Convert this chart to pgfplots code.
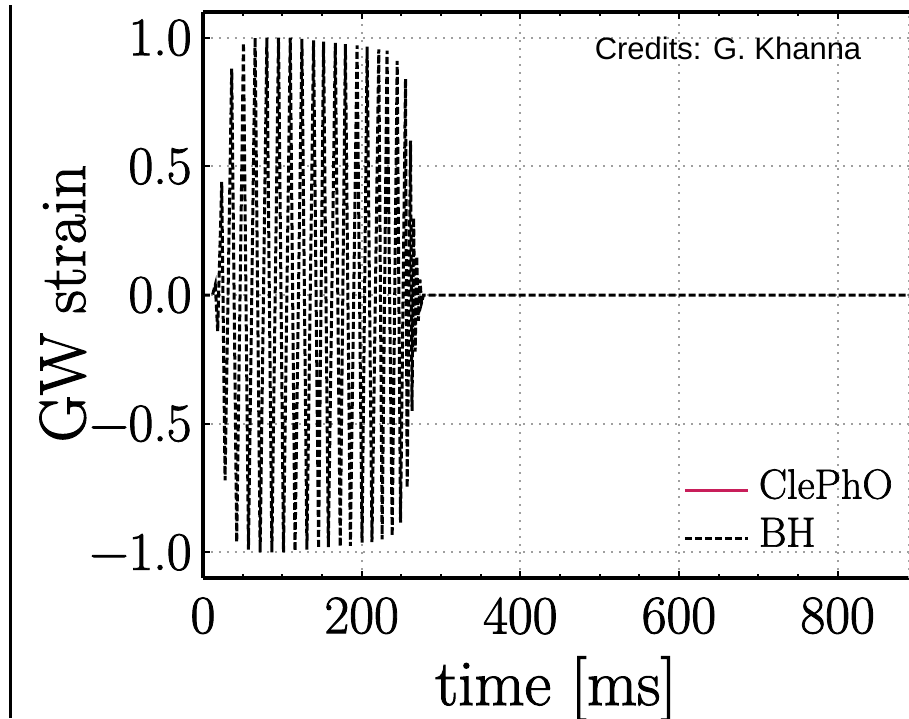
\documentclass[border=0pt]{standalone}
\usepackage{fontspec}
\setmainfont{Latin Modern Roman}[RawFeature={embolden=1.6}]
\usepackage{pgfplots}
\pgfplotsset{compat=1.18}
\newfontfamily\credfont{Liberation Sans}
\definecolor{clepho}{RGB}{200,30,90}
\pgfplotstableread{
t h
0 0
12 0
15.5 0.04
18.5 -0.14
23.6 0.44
27.8 -0.72
36.2 0.88
42.5 -0.96
51 0.98
57.3 -0.99
65.7 1.0
72 -1.0
80.5 1.0
86.8 -1.0
95.2 1.0
101.5 -1.0
110 1.0
116 -0.995
124.7 0.995
131 -0.99
139.4 0.99
145.7 -0.985
152 0.985
158 -0.98
166.8 0.98
173 -0.978
179.5 0.975
185.8 -0.975
194.2 0.97
200.5 -0.962
206.9 0.965
213 -0.96
221.6 0.955
225.8 -0.95
232 0.95
238.5 -0.937
244.8 0.91
249 -0.885
255.3 0.84
257.4 -0.75
261.6 0.6
263.5 -0.45
265.5 0.3
267.5 -0.22
269.5 0.15
271.5 -0.1
273.5 0.06
275.5 -0.03
278 0
890 0
}\bhdata
\begin{document}
\begin{tikzpicture}
\useasboundingbox (-101.5pt,-70pt) rectangle (353pt,289pt);
\begin{axis}[
  at={(0,0)}, anchor=south west,
  scale only axis, width=353pt, height=283pt,
  xmin=0, xmax=890, ymin=-1.1, ymax=1.1,
  separate axis lines,
  axis x line*=box, axis y line*=left,
  axis line style={line width=1.6pt, black},
  xtick={0,200,400,600,800},
  minor x tick num=3,
  ytick={-1,-0.5,0,0.5,1},
  yticklabels={−1.0,−0.5,0.0,0.5,1.0},
  xtick pos=both,
  tick align=inside,
  major tick length=3.5pt, minor tick length=2pt,
  every tick/.style={black, line width=1pt},
  /pgf/number format/assume math mode=true,
  tick label style={font=\fontsize{27}{30}\selectfont},
  xticklabel style={inner sep=0pt, anchor=north, yshift=-9.5pt},
  yticklabel style={inner sep=0pt, anchor=east, xshift=-5.5pt},
  grid=major,
  major grid style={gray!75, line width=0.9pt, dash pattern=on 0.9pt off 3.1pt},
  xlabel={time [ms]},
  ylabel={GW strain},
  label style={font=\fontsize{32.5}{36}\selectfont},
  xlabel style={at={([yshift=-63.5pt]axis description cs:0.5,0)}, anchor=base},
  ylabel style={at={([xshift=-59pt]axis description cs:0,0.485)}, anchor=base},
  legend style={at={(rel axis cs:0.680,0.2)}, anchor=north west,
    draw=none, fill=none, inner sep=0pt, row sep=4.2pt,
    font=\fontsize{21}{24}\selectfont, nodes={inner sep=2pt}},
  legend cell align=left,
  legend image code/.code={\path[draw=none,fill=none] (0pt,-5pt) rectangle (35pt,5pt); \draw[#1] (0pt,-2.5pt) -- (31.5pt,-2.5pt);},
]
\addlegendimage{clepho, line width=1.2pt, solid}
\addlegendentry{ClePhO}
\addplot[black, line width=1.5pt, dash pattern=on 3.5pt off 1.5pt] table[x=t,y=h] {\bhdata};
\addlegendentry{BH}
\end{axis}
\draw[gray!70, line width=0.9pt, dash pattern=on 0.9pt off 3.1pt] (353pt,0pt) -- (353pt,283pt);
\draw[black, line width=1.5pt] (-96pt,-70pt) -- (-96pt,286.5pt);
\node[anchor=base, inner sep=0pt, font=\credfont\fontsize{15.5}{18}\selectfont] at (262.5pt,259pt) {Credits: G. Khanna};
\end{tikzpicture}
\end{document}
